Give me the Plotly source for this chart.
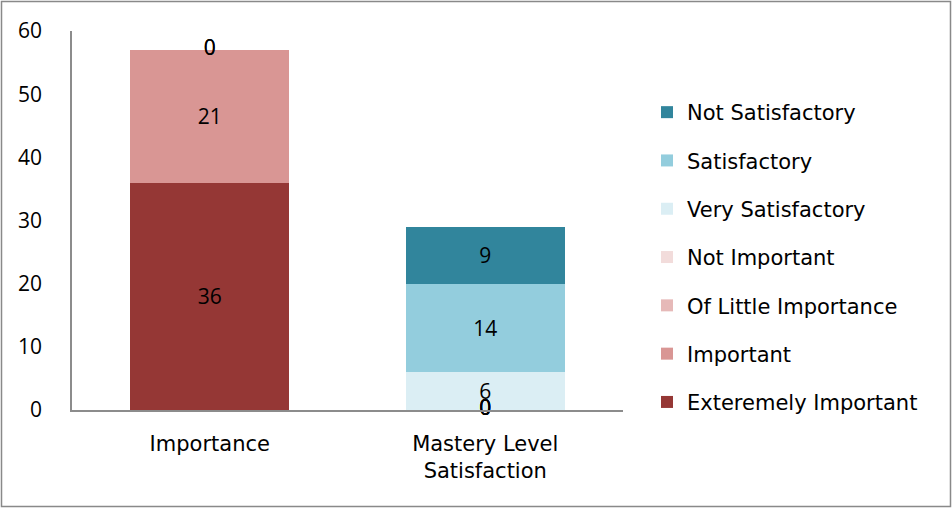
import plotly.graph_objects as go

categories = ["Importance", "Mastery Level<br>Satisfaction"]
series_names = ["Exteremely Important", "Important", "Of Little Importance", "Not Important",
                "Very Satisfactory", "Satisfactory", "Not Satisfactory"]
extremely_important = [36, 0]
important = [21, 0]
of_little_importance = [0, 0]
not_important = [0, 0]
very_satisfactory = [None, 6]
satisfactory = [None, 14]
not_satisfactory = [None, 9]
series_values = [extremely_important, important, of_little_importance, not_important,
                 very_satisfactory, satisfactory, not_satisfactory]
colors = ["#953735", "#D99694", "#E6B9B8", "#F2DCDB", "#DBEEF4", "#93CDDD", "#31859C"]

WORD_FONT = "DejaVu Sans, sans-serif"
NUM_FONT = "Open Sans, sans-serif"
fig = go.Figure()

base = [0, 0]
for i, (name, vals, col) in enumerate(zip(series_names, series_values, colors)):
    fig.add_trace(go.Bar(
        x=categories, y=vals, name=name,
        marker=dict(color=col, line=dict(width=0)),
        legendgroup=name, legendrank=1000 - 10 * i, width=0.576,
        text=[str(v) if (v is not None and v > 0) else "" for v in vals],
        textposition="inside", insidetextanchor="middle", constraintext="none",
        textfont=dict(color="black", size=21, family=NUM_FONT),
    ))
    zx, zy = [], []
    for j, v in enumerate(vals):
        if v is not None:
            if v == 0:
                zx.append(categories[j]); zy.append(base[j])
            base[j] += v
    if zx:
        fig.add_trace(go.Scatter(x=zx, y=zy, mode="text", text=["0"] * len(zx),
                                 textfont=dict(color="black", size=21, family=NUM_FONT),
                                 showlegend=False, hoverinfo="skip", cliponaxis=False))

L, T, R, B = 72, 31, 329, 98
W, H = 952, 508
pw, ph = W - L - R, H - T - B

fig.update_layout(
    width=W, height=H, barmode="stack",
    margin=dict(l=L, r=R, t=T, b=B),
    paper_bgcolor="white", plot_bgcolor="white",
    font=dict(family=WORD_FONT, size=21, color="black"),
    legend=dict(traceorder="grouped", tracegroupgap=18,
                x=(647 - L) / pw, xanchor="left", y=(H - B - 92) / ph, yanchor="top",
                font=dict(size=21, family=WORD_FONT), itemwidth=30,
                bgcolor="rgba(0,0,0,0)"),
    xaxis=dict(showline=True, linecolor="#8C8C8C", linewidth=1.5, ticks="",
               showgrid=False, ticklabelstandoff=14,
               tickfont=dict(size=21, family=WORD_FONT)),
    yaxis=dict(range=[0, 60], dtick=10, showline=True, linecolor="#8C8C8C", linewidth=1.5,
               ticks="", showgrid=False, zeroline=False, ticklabelstandoff=24,
               tickfont=dict(size=21, family=NUM_FONT)),
    shapes=[dict(type="rect", xref="paper", yref="paper",
                 x0=(1.5 - L) / pw, x1=(950.5 - L) / pw,
                 y0=(H - B - 506.5) / ph, y1=(H - B - 1.5) / ph,
                 line=dict(color="#898989", width=1.5), fillcolor="rgba(0,0,0,0)",
                 layer="below")],
)

fig.write_html("out.html")
